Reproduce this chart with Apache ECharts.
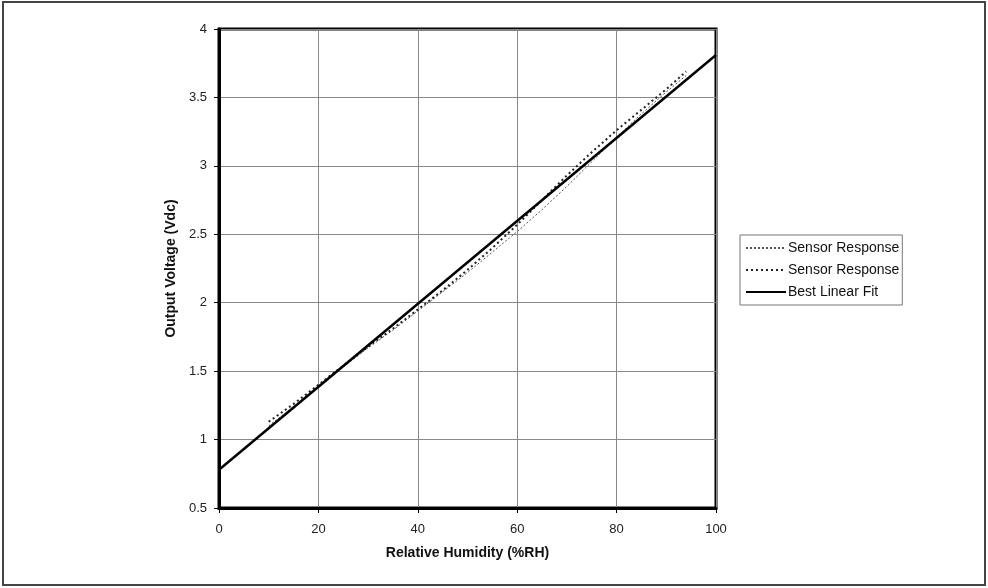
<!DOCTYPE html>
<html>
<head>
<meta charset="utf-8">
<script src="https://cdn.jsdelivr.net/npm/echarts@6/dist/echarts.min.js"></script>
<style>
	html, body { margin: 0; padding: 0; background: #fff; }
	#chart { width: 988px; height: 588px; }
</style>
</head>
<body>
<div id="chart"></div>
<script>
	/*-----data-----*/
	var humidity = [10, 15, 20, 25, 30, 35, 40, 45, 50, 55, 60, 65, 70, 75, 80, 85, 90, 94];
	var sensorA = [1.10, 1.24, 1.38, 1.53, 1.67, 1.80, 1.94, 2.08, 2.22, 2.37, 2.52, 2.68, 2.85, 3.03, 3.21, 3.38, 3.54, 3.66];
	var sensorB = [1.13, 1.26, 1.40, 1.54, 1.68, 1.81, 1.95, 2.09, 2.24, 2.40, 2.57, 2.75, 2.93, 3.10, 3.26, 3.41, 3.56, 3.69];
	var fitX = [0, 100];
	var fitY = [0.78, 3.81];
	var seriesNames = ['Sensor Response', 'Sensor Response ', 'Best Linear Fit'];

	function pairs(xs, ys) {
		var out = [];
		for (var i = 0; i < xs.length; i++) {
			out.push([xs[i], ys[i]]);
		}
		return out;
	}

	var font = 'Arial, "Liberation Sans", sans-serif';
	var chart = echarts.init(document.getElementById('chart'));
	var option = {
		animation: false,
		textStyle: { fontFamily: font },
		grid: {
			left: 219,
			right: 272,
			top: 29,
			bottom: 80,
			show: true,
			borderColor: '#000',
			borderWidth: 3,
			backgroundColor: '#fff'
		},
		legend: {
			orient: 'vertical',
			left: 740,
			top: 235,
			itemWidth: 40,
			itemHeight: 14,
			itemGap: 8,
			padding: [6, 3, 6, 5],
			borderColor: '#777',
			borderWidth: 1,
			itemStyle: { opacity: 0 },
			data: seriesNames,
			formatter: function(name) { return name.trim(); },
			textStyle: { fontFamily: font, fontSize: 14, color: '#111', padding: [0, 0, 0, -3] }
		},
		xAxis: {
			type: 'value',
			min: 0,
			max: 100,
			interval: 20,
			name: 'Relative Humidity (%RH)',
			nameLocation: 'middle',
			nameGap: 38,
			nameTextStyle: { fontFamily: font, fontSize: 14, fontWeight: 'bold', color: '#111' },
			axisLine: { show: true, lineStyle: { color: '#000', width: 3 } },
			axisTick: { show: true, length: 5, lineStyle: { color: '#000', width: 1 } },
			axisLabel: { fontFamily: font, fontSize: 13, color: '#222', margin: 15 },
			splitLine: { show: true, lineStyle: { color: '#888', width: 1 } }
		},
		yAxis: {
			type: 'value',
			min: 0.5,
			max: 4,
			interval: 0.5,
			name: 'Output Voltage (Vdc)',
			nameLocation: 'middle',
			nameGap: 40,
			nameTextStyle: { fontFamily: font, fontSize: 14, fontWeight: 'bold', color: '#111' },
			axisLine: { show: true, lineStyle: { color: '#000', width: 3 } },
			axisTick: { show: true, length: 5, lineStyle: { color: '#000', width: 1 } },
			axisLabel: { fontFamily: font, fontSize: 13, color: '#222', margin: 12 },
			splitLine: { show: true, lineStyle: { color: '#888', width: 1 } }
		},
		series: [{
			name: seriesNames[0],
			type: 'line',
			symbol: 'none',
			data: pairs(humidity, sensorA),
			lineStyle: { color: '#555', width: 1, type: [2, 2] },
			itemStyle: { color: '#555' }
		}, {
			name: seriesNames[1],
			type: 'line',
			symbol: 'none',
			data: pairs(humidity, sensorB),
			lineStyle: { color: '#222', width: 2, type: [2, 3] },
			itemStyle: { color: '#222' }
		}, {
			name: seriesNames[2],
			type: 'line',
			symbol: 'none',
			data: pairs(fitX, fitY),
			lineStyle: { color: '#000', width: 2.5 },
			itemStyle: { color: '#000' }
		}],
		graphic: [{
			type: 'rect',
			silent: true,
			shape: { x: 3, y: 2, width: 982, height: 583 },
			style: { fill: 'none', stroke: '#444', lineWidth: 2 }
		}]
	};
	chart.setOption(option);
</script>
</body>
</html>
